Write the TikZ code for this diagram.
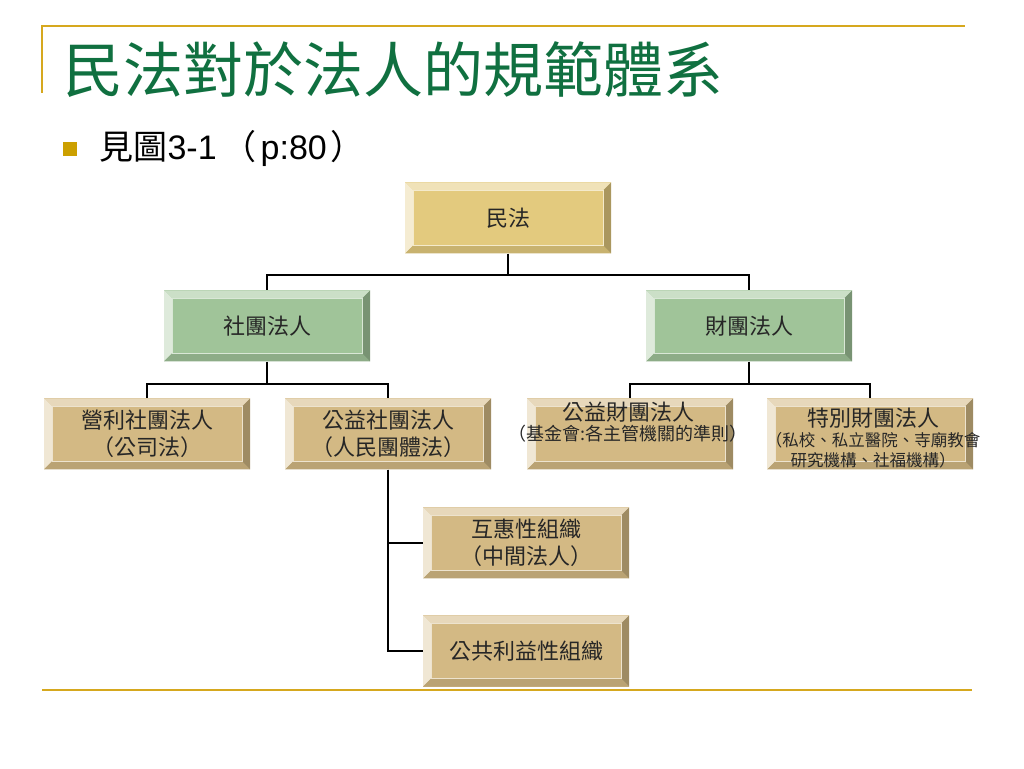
\documentclass[tikz,border=0pt]{standalone}
\usepackage{fontspec}
\setmainfont{Liberation Sans}
\newfontfamily\cjk{Noto Sans CJK TC}
\usepackage{xcolor}
\usepackage{tikz}
\usetikzlibrary{positioning,calc}

\definecolor{titlegreen}{RGB}{16,112,64}
\definecolor{rulegold}{RGB}{214,168,30}
\definecolor{bulletgold}{RGB}{204,160,0}
\definecolor{plategold}{RGB}{227,202,126}
\definecolor{platetan}{RGB}{211,185,132}
\definecolor{platesage}{RGB}{160,196,153}

\def\bb{path picture bounding box}

\tikzset{
    plate/.style={minimum width=206pt, minimum height=71pt, inner sep=0pt,
        align=center, text=black!85, fill=#1,
        font=\cjk\fontsize{22}{27}\selectfont,
        path picture={
            % bevel edges
            \fill[#1!55!white] (\bb.north west) -- (\bb.north east)
                -- ([shift={(-8pt,-8pt)}]\bb.north east) -- ([shift={(8pt,-8pt)}]\bb.north west) -- cycle;
            \fill[#1!35!white] (\bb.north west) -- (\bb.south west)
                -- ([shift={(8pt,8pt)}]\bb.south west) -- ([shift={(8pt,-8pt)}]\bb.north west) -- cycle;
            \fill[#1!75!black] (\bb.north east) -- (\bb.south east)
                -- ([shift={(-8pt,8pt)}]\bb.south east) -- ([shift={(-8pt,-8pt)}]\bb.north east) -- cycle;
            \fill[#1!88!black] (\bb.south west) -- (\bb.south east)
                -- ([shift={(-8pt,8pt)}]\bb.south east) -- ([shift={(8pt,8pt)}]\bb.south west) -- cycle;
            \draw[#1!40!white, line width=0.8pt] ([shift={(8pt,-8pt)}]\bb.north west)
                rectangle ([shift={(-8pt,8pt)}]\bb.south east);
        }},
    link/.style={line width=2.2pt, black}
}

\begin{document}
\begin{tikzpicture}[x=1pt,y=1pt]
    \useasboundingbox (0,0) rectangle (1024,768);

    % Frame lines
    \draw[rulegold, line width=2pt] (42,675) -- (42,742) -- (965,742);
    \draw[rulegold, line width=2pt] (42,78) -- (972,78);

    % Title and bullet
    \node[anchor=west, text=titlegreen, font=\cjk\fontsize{60}{66}\selectfont] (title) at (60,698) {民法對於法人的規範體系};
    \fill[bulletgold] (63,612) rectangle (77,626);
    \node[anchor=west, font=\fontsize{34}{38}\selectfont] (ref) at (96,620)
        {{\cjk 見圖}3-1\hspace{6pt}{\cjk （}\hspace{4pt}p:80\hspace{4pt}{\cjk ）}};

    % Tree
    \node[plate=plategold] (minfa) at (508,550) {民法};
    \node[plate=platesage] (shetuan) at (267,442) {社團法人};
    \node[plate=platesage] (caituan) at (749,442) {財團法人};

    \node[plate=platetan] (yingli) at (147,334) {營利社團法人\\（公司法）};
    \node[plate=platetan] (gongyi) at (388,334) {公益社團法人\\（人民團體法）};
    \node[plate=platetan] (gongyicai) at (630,334) {};
    \node[font=\cjk\fontsize{18}{20}\selectfont, align=center, text=black!85] (gongyicaitxt) at (628,346)
        {{\fontsize{22}{22}\selectfont 公益財團法人}\\（基金會:各主管機關的準則）};
    \node[plate=platetan] (tebie) at (870,334) {};
    \node[font=\cjk\fontsize{16.5}{20}\selectfont, align=center, text=black!85] (tebietxt) at (873,330)
        {{\fontsize{22}{22}\selectfont 特別財團法人}\\（私校、私立醫院、寺廟教會\\研究機構、社福機構）};

    \node[plate=platetan] (huhui) at (526,225) {互惠性組織\\（中間法人）};
    \node[plate=platetan] (gonggong) at (526,117) {公共利益性組織};

    % Connectors
    \coordinate (j1) at ([yshift=-21pt]minfa.south);
    \draw[link] (minfa.south) -- (j1) -| (shetuan.north);
    \draw[link] (j1) -| (caituan.north);

    \coordinate (j2) at ([yshift=-22pt]shetuan.south);
    \draw[link] (shetuan.south) -- (j2) -| (yingli.north);
    \draw[link] (j2) -| (gongyi.north);

    \coordinate (j3) at ([yshift=-22pt]caituan.south);
    \draw[link] (caituan.south) -- (j3) -| (gongyicai.north);
    \draw[link] (j3) -| (tebie.north);

    \draw[link] (gongyi.south) |- (huhui.west);
    \draw[link] (gongyi.south) |- (gonggong.west);
\end{tikzpicture}
\end{document}
